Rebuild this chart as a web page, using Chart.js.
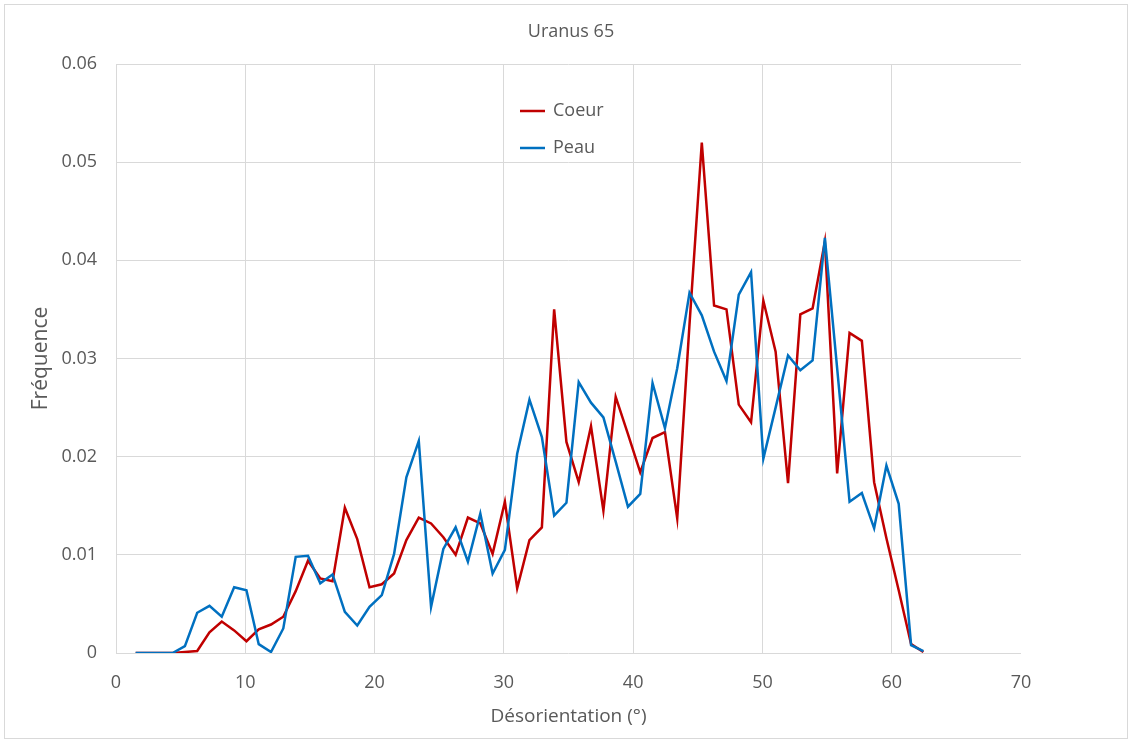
<!DOCTYPE html>
<html>
<head>
<meta charset="utf-8">
<script src="https://cdn.jsdelivr.net/npm/chart.js@4.4.1/dist/chart.umd.min.js"></script>
<style>
  html, body { margin: 0; padding: 0; background: #fff; }
  #wrap { width: 1132px; height: 743px; }
</style>
</head>
<body>
<div id="wrap"><canvas id="chart" width="1132" height="743"></canvas></div>
<script>
// Désorientation (°) - centres des classes
const degres = [1.52, 2.47, 3.42, 4.38, 5.33, 6.28, 7.23, 8.18, 9.14, 10.09,
  11.04, 11.99, 12.94, 13.90, 14.85, 15.80, 16.75, 17.70, 18.66, 19.61,
  20.56, 21.51, 22.46, 23.42, 24.37, 25.32, 26.27, 27.22, 28.18, 29.13,
  30.08, 31.03, 31.98, 32.94, 33.89, 34.84, 35.79, 36.74, 37.70, 38.65,
  39.60, 40.55, 41.50, 42.46, 43.41, 44.36, 45.31, 46.26, 47.22, 48.17,
  49.12, 50.07, 51.02, 51.98, 52.93, 53.88, 54.83, 55.78, 56.74, 57.69,
  58.64, 59.59, 60.54, 61.50, 62.45];

const coeur = [0, 0, 0, 0, 0.0001, 0.0002, 0.0021, 0.0032, 0.0023, 0.0012,
  0.0024, 0.0029, 0.0037, 0.0063, 0.0094, 0.0076, 0.0073, 0.0148, 0.0116, 0.0067,
  0.0070, 0.0081, 0.0115, 0.0138, 0.0132, 0.0118, 0.0100, 0.0138, 0.0132, 0.0101,
  0.0154, 0.0066, 0.0115, 0.0128, 0.0350, 0.0215, 0.0174, 0.0231, 0.0145, 0.0261,
  0.0223, 0.0184, 0.0219, 0.0225, 0.0137, 0.0335, 0.0520, 0.0354, 0.0350, 0.0253,
  0.0235, 0.0359, 0.0307, 0.0173, 0.0345, 0.0351, 0.0419, 0.0183, 0.0326, 0.0318,
  0.0174, 0.0117, 0.0064, 0.0009, 0.0001];

const peau = [0, 0, 0, 0, 0.0007, 0.0041, 0.0048, 0.0037, 0.0067, 0.0064,
  0.0009, 0.0001, 0.0025, 0.0098, 0.0099, 0.0071, 0.0080, 0.0042, 0.0028, 0.0047,
  0.0059, 0.0101, 0.0179, 0.0216, 0.0047, 0.0106, 0.0128, 0.0093, 0.0142, 0.0081,
  0.0105, 0.0203, 0.0258, 0.0220, 0.0140, 0.0153, 0.0276, 0.0255, 0.0240, 0.0195,
  0.0149, 0.0162, 0.0275, 0.0229, 0.0290, 0.0367, 0.0344, 0.0307, 0.0277, 0.0365,
  0.0388, 0.0198, 0.0250, 0.0303, 0.0288, 0.0298, 0.0423, 0.0290, 0.0154, 0.0163,
  0.0127, 0.0191, 0.0152, 0.0008, 0.0002];

const yTickLabels = ['0', '0.01', '0.02', '0.03', '0.04', '0.05', '0.06'];

const textColor = '#595959';
const gridColor = '#d9d9d9';
const fontFamily = '"Open Sans", "Noto Sans", sans-serif';

const toPoints = (ys) => ys.map((y, i) => ({ x: degres[i], y: y }));

// titre + légende dessinés dans la zone du graphique
const decor = {
  id: 'decor',
  afterDraw(chart) {
    const ctx = chart.ctx;
    const area = chart.chartArea;
    ctx.save();
    // cadre
    ctx.strokeStyle = '#d9d9d9';
    ctx.lineWidth = 1;
    ctx.strokeRect(4.5, 4.5, chart.width - 9, chart.height - 9);
    // titre
    ctx.fillStyle = textColor;
    ctx.font = '18px ' + fontFamily;
    ctx.textAlign = 'center';
    ctx.textBaseline = 'middle';
    ctx.fillText('Uranus 65', 571, 32);
    // légende
    const items = [
      { label: 'Coeur', color: '#c00000' },
      { label: 'Peau', color: '#0070c0' },
    ];
    ctx.font = '18px ' + fontFamily;
    ctx.textAlign = 'left';
    items.forEach((it, i) => {
      const y = area.top + 47 + i * 37;
      ctx.strokeStyle = it.color;
      ctx.lineWidth = 2.5;
      ctx.beginPath();
      ctx.moveTo(area.left + 404, y);
      ctx.lineTo(area.left + 429, y);
      ctx.stroke();
      ctx.fillStyle = textColor;
      ctx.fillText(it.label, area.left + 437, y);
    });
    ctx.restore();
  },
};

new Chart(document.getElementById('chart'), {
  type: 'line',
  data: {
    datasets: [
      {
        label: 'Coeur',
        data: toPoints(coeur),
        borderColor: '#c00000',
        backgroundColor: '#c00000',
        borderWidth: 2.5,
        pointRadius: 0,
        tension: 0,
        order: 1,
      },
      {
        label: 'Peau',
        data: toPoints(peau),
        borderColor: '#0070c0',
        backgroundColor: '#0070c0',
        borderWidth: 2.5,
        pointRadius: 0,
        tension: 0,
        order: 0,
      },
    ],
  },
  options: {
    responsive: false,
    animation: false,
    layout: { padding: { top: 64, right: 111, left: 0, bottom: 0 } },
    plugins: {
      legend: { display: false },
      title: { display: false },
      tooltip: { enabled: false },
    },
    scales: {
      x: {
        type: 'linear',
        min: 0,
        max: 70,
        afterFit: (s) => { s.height = 90; },
        ticks: {
          stepSize: 10,
          color: textColor,
          font: { family: fontFamily, size: 18 },
          padding: 19,
        },
        grid: {
          color: (c) => (c.tick && c.tick.value === 70 ? 'rgba(0,0,0,0)' : gridColor),
          drawTicks: false,
        },
        border: { display: false },
        title: {
          display: true,
          text: 'Désorientation (°)',
          color: textColor,
          font: { family: fontFamily, size: 19 },
          padding: { bottom: 15 },
        },
      },
      y: {
        min: 0,
        max: 0.06,
        afterFit: (s) => { s.width = 116; },
        ticks: {
          stepSize: 0.01,
          color: textColor,
          font: { family: fontFamily, size: 18 },
          padding: 19,
          callback: (v, i) => yTickLabels[i],
        },
        grid: { color: gridColor, drawTicks: false },
        border: { display: false },
        title: {
          display: true,
          text: 'Fréquence',
          color: textColor,
          font: { family: fontFamily, size: 21 },
          padding: { top: 28 },
        },
      },
    },
  },
  plugins: [decor],
});
</script>
</body>
</html>
